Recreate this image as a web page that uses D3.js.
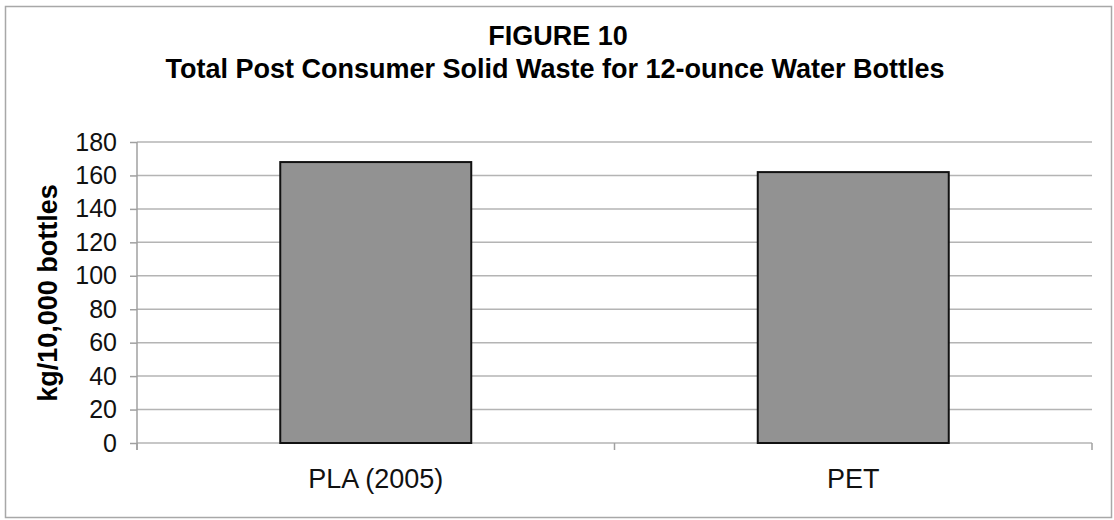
<!DOCTYPE html>
<html>
<head>
<meta charset="utf-8">
<script src="https://cdn.jsdelivr.net/npm/d3@7"></script>
<style>
  body { margin: 0; background: #fff; }
  svg { font-family: "Liberation Sans", Arial, sans-serif; }
</style>
</head>
<body>
<svg id="chart" width="1114" height="520"></svg>
<script>
var categories = ["PLA (2005)", "PET"];
var values = [168, 162];
var yTicks = [0, 20, 40, 60, 80, 100, 120, 140, 160, 180];

var svg = d3.select("#chart");

// outer frame
svg.append("rect")
	.attr("x", 5.5).attr("y", 6.5)
	.attr("width", 1106).attr("height", 511)
	.attr("fill", "#fff")
	.attr("stroke", "#a8a8a8")
	.attr("stroke-width", 1.5);

var plotLeft = 137, plotRight = 1092, plotTop = 142, plotBottom = 443;

var x = d3.scaleBand()
	.domain(categories)
	.range([plotLeft, plotRight])
	.paddingInner(0.6)
	.paddingOuter(0.3);

var y = d3.scaleLinear()
	.domain([0, 180])
	.range([plotBottom, plotTop]);

// gridlines
svg.append("g")
	.selectAll("line")
	.data(yTicks)
	.enter()
	.append("line")
	.attr("x1", plotLeft).attr("x2", plotRight)
	.attr("y1", function(d) { return y(d); })
	.attr("y2", function(d) { return y(d); })
	.attr("stroke", "#b4b4b4")
	.attr("stroke-width", 1.5);

// y axis
var yAxis = svg.append("g")
	.attr("transform", "translate(" + plotLeft + ",0)")
	.call(d3.axisLeft(y).tickValues(yTicks).tickSize(7).tickPadding(13));
yAxis.select(".domain").remove();
yAxis.append("line")
	.attr("x1", 0).attr("x2", 0)
	.attr("y1", plotTop).attr("y2", plotBottom + 7)
	.attr("stroke", "#a0a0a0").attr("stroke-width", 1.5);
yAxis.selectAll(".tick line").attr("stroke", "#a0a0a0").attr("stroke-width", 1.5);
yAxis.selectAll(".tick text")
	.attr("font-size", "25px")
	.attr("fill", "#111")
	.attr("font-family", "Liberation Sans, Arial, sans-serif");

// category ticks at band edges
var edges = [plotLeft, (plotLeft + plotRight) / 2, plotRight];
svg.append("g")
	.selectAll("line")
	.data(edges)
	.enter()
	.append("line")
	.attr("x1", function(d) { return d; })
	.attr("x2", function(d) { return d; })
	.attr("y1", plotBottom).attr("y2", plotBottom + 7)
	.attr("stroke", "#a0a0a0").attr("stroke-width", 1.5);

// bars
svg.append("g")
	.selectAll("rect")
	.data(values)
	.enter()
	.append("rect")
	.attr("x", function(d, i) { return x(categories[i]); })
	.attr("y", function(d) { return y(d); })
	.attr("width", x.bandwidth())
	.attr("height", function(d) { return plotBottom - y(d); })
	.attr("fill", "#929292")
	.attr("stroke", "#111")
	.attr("stroke-width", 2);

// category labels
svg.append("g")
	.selectAll("text")
	.data(categories)
	.enter()
	.append("text")
	.attr("x", function(d) { return x(d) + x.bandwidth() / 2; })
	.attr("y", 488)
	.attr("text-anchor", "middle")
	.attr("font-size", "27px")
	.attr("fill", "#111")
	.text(function(d) { return d; });

// titles
svg.append("text")
	.attr("x", 558).attr("y", 45)
	.attr("text-anchor", "middle")
	.attr("font-size", "27px")
	.attr("font-weight", "bold")
	.text("FIGURE 10");
svg.append("text")
	.attr("x", 555).attr("y", 78)
	.attr("text-anchor", "middle")
	.attr("font-size", "27px")
	.attr("font-weight", "bold")
	.text("Total Post Consumer Solid Waste for 12-ounce Water Bottles");

// y label
svg.append("text")
	.attr("transform", "translate(57,293) rotate(-90)")
	.attr("text-anchor", "middle")
	.attr("font-size", "27px")
	.attr("font-weight", "bold")
	.text("kg/10,000 bottles");
</script>
</body>
</html>
